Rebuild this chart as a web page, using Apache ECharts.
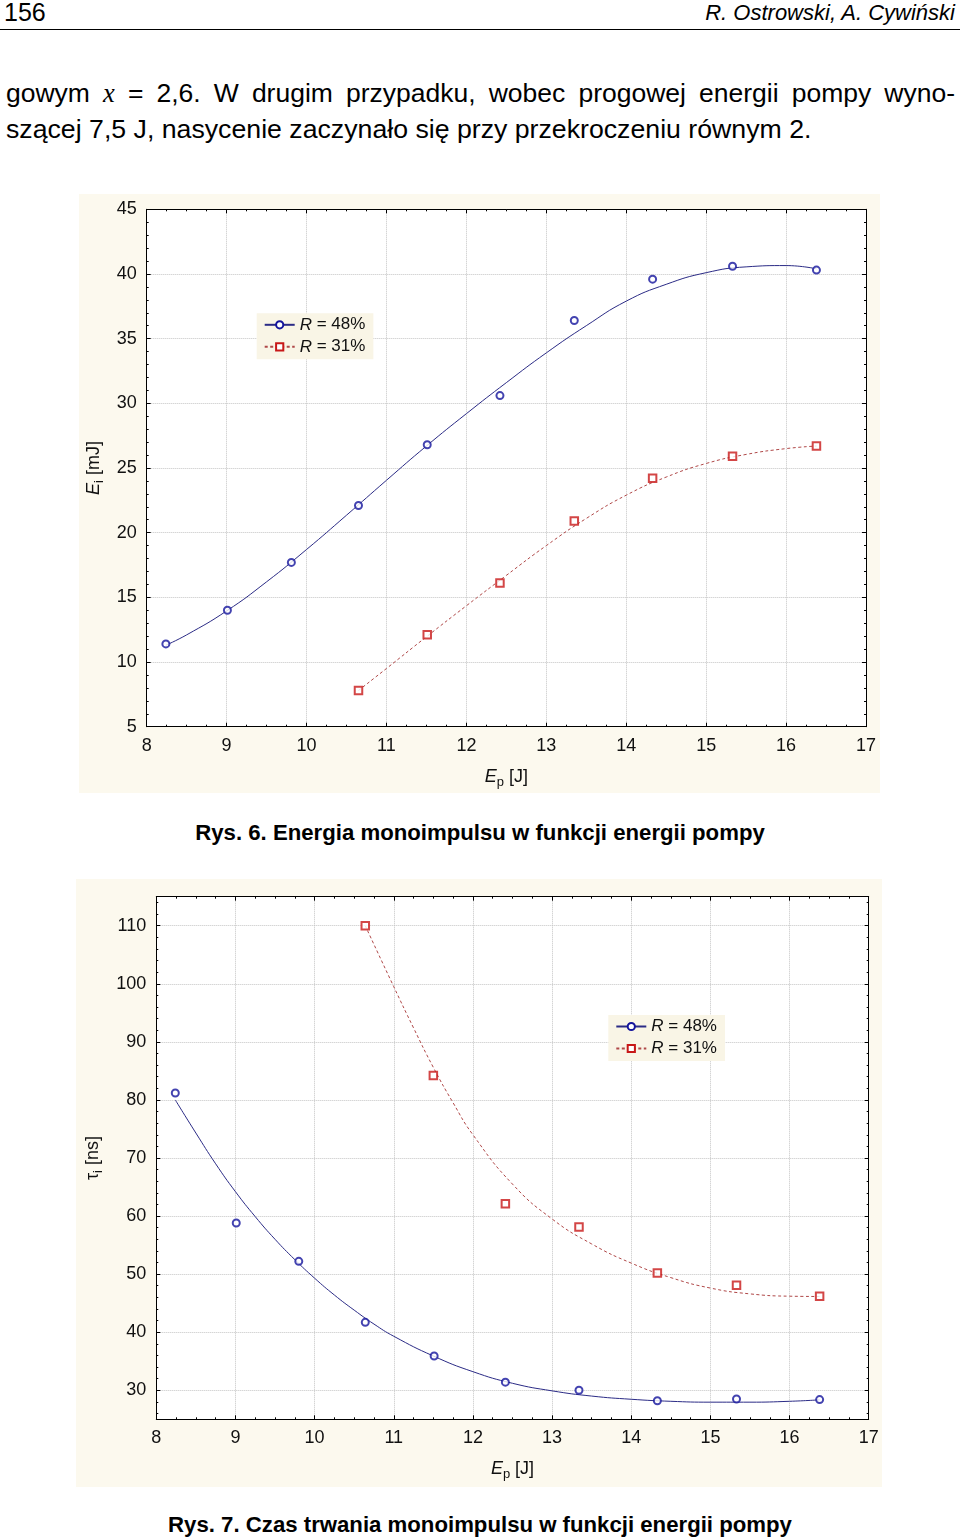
<!DOCTYPE html>
<html><head><meta charset="utf-8">
<script src="https://cdn.jsdelivr.net/npm/echarts@6/dist/echarts.min.js"></script>
<style>
html,body{margin:0;padding:0;background:#fff;}
#page{position:relative;width:960px;height:1539px;overflow:hidden;font-family:'Liberation Sans',Arial,sans-serif;color:#000;}
.t{position:absolute;white-space:nowrap;}
.x{font-family:'Liberation Serif','Times New Roman',serif;font-style:italic;}
.chart{position:absolute;background:#fcf9ee;}
</style></head><body><div id="page">
<div class="t" style="left:4px;top:0px;font-size:25px;line-height:25px;">156</div>
<div class="t" style="right:5px;top:2px;font-size:22px;line-height:22px;font-style:italic;">R. Ostrowski, A. Cywiński</div>
<div style="position:absolute;left:0;top:29px;width:960px;height:1px;background:#000"></div>
<div class="t" style="left:6px;top:78px;width:949px;font-size:26.5px;line-height:30px;white-space:normal;text-align:justify;text-align-last:justify;">gowym <span class="x">x</span> = 2,6. W drugim przypadku, wobec progowej energii pompy wyno-</div>
<div class="t" style="left:6px;top:114px;font-size:26.7px;line-height:30px;">szącej 7,5 J, nasycenie zaczynało się przy przekroczeniu równym 2.</div>
<div id="c1" class="chart" style="left:79px;top:194px;width:801px;height:599px;"></div>
<div class="t" style="left:0;width:960px;text-align:center;top:822px;font-size:22.2px;line-height:22px;font-weight:bold;">Rys. 6. Energia monoimpulsu w funkcji energii pompy</div>
<div id="c2" class="chart" style="left:76px;top:879px;width:806px;height:608px;"></div>
<div class="t" style="left:0;width:960px;text-align:center;top:1514px;font-size:22.2px;line-height:22px;font-weight:bold;">Rys. 7. Czas trwania monoimpulsu w funkcji energii pompy</div>
</div>
<script>
// ---------- data ----------
const SERIES_NAMES = ['R = 48%', 'R = 31%'];
const X_TICKS = [8, 9, 10, 11, 12, 13, 14, 15, 16, 17];

// Rys. 6: E_i [mJ] vs E_p [J] (measured points)
const EP6_R48 = [8.24, 9.01, 9.81, 10.65, 11.51, 12.42, 13.35, 14.33, 15.33, 16.38];
const EI6_R48 = [11.4, 14.0, 17.7, 22.1, 26.8, 30.6, 36.4, 39.6, 40.6, 40.3];
const EP6_R31 = [10.65, 11.51, 12.42, 13.35, 14.33, 15.33, 16.38];
const EI6_R31 = [7.8, 12.1, 16.1, 20.9, 24.2, 25.9, 26.7];
// fitted curves
const FIT6_X_R48 = [8.24, 8.5, 9, 9.5, 10, 10.5, 11, 11.5, 12, 12.5, 13, 13.5, 14, 14.5, 15, 15.5, 16, 16.38];
const FIT6_Y_R48 = [11.3, 12.1, 13.95, 16.2, 18.7, 21.35, 24.05, 26.7, 29.2, 31.6, 33.9, 36.0, 37.9, 39.2, 40.1, 40.55, 40.65, 40.4];
const FIT6_X_R31 = [10.65, 11, 11.5, 12, 12.5, 13, 13.5, 14, 14.5, 15, 15.5, 16, 16.38];
const FIT6_Y_R31 = [7.8, 9.5, 11.95, 14.35, 16.7, 19.0, 21.1, 22.9, 24.3, 25.35, 26.05, 26.5, 26.7];

// Rys. 7: tau_i [ns] vs E_p [J] (measured points)
const EP7_R48 = [8.24, 9.01, 9.80, 10.64, 11.51, 12.41, 13.34, 14.33, 15.33, 16.38];
const TAU7_R48 = [81.2, 58.8, 52.2, 41.7, 35.9, 31.4, 30.0, 28.2, 28.5, 28.4];
const EP7_R31 = [10.64, 11.50, 12.41, 13.34, 14.33, 15.33, 16.38];
const TAU7_R31 = [110, 84.2, 62.1, 58.1, 50.2, 48.1, 46.2];
// fitted curves
const FIT7_X_R48 = [8.24, 8.5, 8.75, 9, 9.25, 9.5, 9.75, 10, 10.25, 10.5, 10.75, 11, 11.5, 12, 12.5, 13, 13.5, 14, 14.5, 15, 15.5, 16, 16.38];
const FIT7_Y_R48 = [80.0, 74.3, 69.0, 64.2, 59.9, 56.0, 52.5, 49.3, 46.4, 43.8, 41.4, 39.3, 35.9, 33.2, 31.2, 29.9, 29.0, 28.45, 28.1, 27.95, 27.95, 28.1, 28.35];
const FIT7_X_R31 = [10.64, 11, 11.25, 11.5, 11.75, 12, 12.5, 13, 13.5, 14, 14.5, 15, 15.5, 16, 16.38];
const FIT7_Y_R31 = [110.0, 99.5, 92.4, 85.6, 79.5, 74.0, 65.5, 59.5, 55.2, 51.9, 49.4, 47.6, 46.6, 46.2, 46.15];

// ---------- styling ----------
const FONT = "'Liberation Sans', Arial, sans-serif";
const BLUE_LINE = '#2b2b86', BLUE_MARK = '#14149c';
const RED_LINE = '#b04848', RED_MARK = '#c81818';
const GRIDLINE = '#c4c4c4';

function zip(xs, ys) { return xs.map((x, i) => [x, ys[i]]); }

const subRich = {
  e: { fontStyle: 'italic', fontSize: 18, lineHeight: 24, fontFamily: FONT, color: '#111' },
  n: { fontSize: 18, lineHeight: 24, fontFamily: FONT, color: '#111' },
  s: { fontSize: 13, lineHeight: 13, verticalAlign: 'bottom', fontFamily: FONT, color: '#111' }
};

function axisCommon() {
  return {
    type: 'value',
    axisLine: { show: true, onZero: false, lineStyle: { color: '#000', width: 1 } },
    axisTick: { show: true, inside: true, length: 4, lineStyle: { color: '#000', width: 1 } },
    minorTick: { show: true, length: 2, lineStyle: { color: '#000', width: 1 } }
  };
}

function xAxes() {
  const b = axisCommon();
  return [
    Object.assign({}, b, {
      position: 'bottom', min: X_TICKS[0], max: X_TICKS[X_TICKS.length - 1], interval: 1,
      minorTick: Object.assign({}, b.minorTick, { splitNumber: 4 }),
      axisLabel: { fontSize: 18, color: '#111', margin: 10, fontFamily: FONT },
      splitLine: { show: true, lineStyle: { type: 'dotted', color: GRIDLINE, width: 1 } },
      name: '{e|E}{s|p}{n| [J]}', nameLocation: 'middle', nameGap: 38,
      nameTextStyle: { rich: subRich }
    }),
    Object.assign({}, b, {
      position: 'top', min: X_TICKS[0], max: X_TICKS[X_TICKS.length - 1], interval: 1,
      minorTick: Object.assign({}, b.minorTick, { splitNumber: 4 }),
      axisLabel: { show: false }, splitLine: { show: false }
    })
  ];
}

function yAxes(cfg) {
  const b = axisCommon();
  const range = cfg.interval ? { min: cfg.min, max: cfg.max, interval: cfg.interval }
                             : { min: cfg.min, max: cfg.max, splitNumber: cfg.splitNumber };
  return [
    Object.assign({}, b, range, {
      position: 'left',
      minorTick: Object.assign({}, b.minorTick, { splitNumber: 5 }),
      axisLabel: { fontSize: 18, color: '#111', margin: 10, fontFamily: FONT, formatter: cfg.fmt },
      splitLine: { show: true, lineStyle: { type: 'dotted', color: GRIDLINE, width: 1 } },
      name: cfg.name, nameLocation: 'middle', nameGap: cfg.nameGap, nameRotate: 90,
      nameTextStyle: { rich: subRich }
    }),
    Object.assign({}, b, range, {
      position: 'right',
      minorTick: Object.assign({}, b.minorTick, { splitNumber: 5 }),
      axisLabel: { show: false }, splitLine: { show: false }
    })
  ];
}

function series(d) {
  return [
    { name: SERIES_NAMES[0], type: 'line', smooth: 0.5, showSymbol: false, symbol: 'emptyCircle', symbolSize: 7,
      data: zip(d.fx48, d.fy48), lineStyle: { color: BLUE_LINE, width: 1 }, itemStyle: { color: BLUE_MARK }, z: 2 },
    { name: SERIES_NAMES[1], type: 'line', smooth: 0.5, showSymbol: false, symbol: 'emptyRect', symbolSize: 7,
      data: zip(d.fx31, d.fy31), lineStyle: { color: RED_LINE, width: 1, type: [3, 2.5] }, itemStyle: { color: RED_MARK }, z: 2 },
    { name: SERIES_NAMES[0] + ' pomiar', type: 'scatter', symbol: 'emptyCircle', symbolSize: 7,
      data: zip(d.x48, d.y48), itemStyle: { color: BLUE_MARK }, z: 3 },
    { name: SERIES_NAMES[1] + ' pomiar', type: 'scatter', symbol: 'emptyRect', symbolSize: 7.5,
      data: zip(d.x31, d.y31), itemStyle: { color: RED_MARK }, z: 3 }
  ];
}

function legend(left, top) {
  return {
    data: SERIES_NAMES, orient: 'vertical', left: left, top: top,
    backgroundColor: '#f9f5e6', padding: [3, 8, 4, 7], itemWidth: 30, itemHeight: 9, itemGap: 5,
    formatter: n => '{i|R}' + n.slice(1),
    textStyle: { fontSize: 17, color: '#111', fontFamily: FONT, rich: { i: { fontStyle: 'italic', fontSize: 17, fontFamily: FONT, color: '#111' } } },
    selectedMode: false
  };
}

const c1 = echarts.init(document.getElementById('c1'), null, { renderer: 'canvas' });
c1.setOption({
  animation: false,
  grid: { left: 67.7, top: 15.3, right: 14, bottom: 66.3, show: true, backgroundColor: '#fff', borderWidth: 0, outerBoundsMode: 'none' },
  xAxis: xAxes(),
  yAxis: yAxes({ min: 5, max: 45, interval: 5, name: '{e|E}{s|i}{n| [mJ]}', nameGap: 36 }),
  legend: legend(177.7, 119.3),
  series: series({ x48: EP6_R48, y48: EI6_R48, x31: EP6_R31, y31: EI6_R31,
                   fx48: FIT6_X_R48, fy48: FIT6_Y_R48, fx31: FIT6_X_R31, fy31: FIT6_Y_R31 })
});

const c2 = echarts.init(document.getElementById('c2'), null, { renderer: 'canvas' });
c2.setOption({
  animation: false,
  grid: { left: 80.3, top: 17.7, right: 13.3, bottom: 67.7, show: true, backgroundColor: '#fff', borderWidth: 0, outerBoundsMode: 'none' },
  xAxis: xAxes(),
  yAxis: yAxes({ min: 25, max: 115, splitNumber: 9, name: '{n|τ}{s|i}{n| [ns]}', nameGap: 44,
                 fmt: v => (v % 10 === 0 ? String(v) : '') }),
  legend: legend(532.3, 136),
  series: series({ x48: EP7_R48, y48: TAU7_R48, x31: EP7_R31, y31: TAU7_R31,
                   fx48: FIT7_X_R48, fy48: FIT7_Y_R48, fx31: FIT7_X_R31, fy31: FIT7_Y_R31 })
});
</script>
</body></html>
